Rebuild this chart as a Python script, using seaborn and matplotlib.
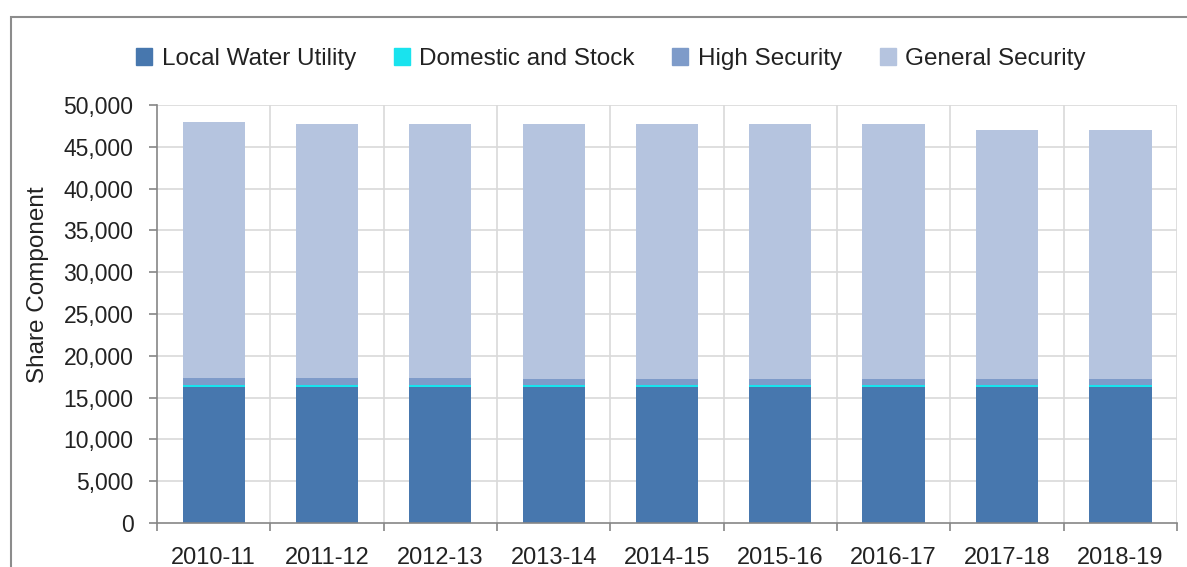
import matplotlib
matplotlib.use("Agg")
import matplotlib.pyplot as plt
import matplotlib.patches as mpatches
from matplotlib.ticker import FuncFormatter, FixedLocator
import numpy as np
import pandas as pd
import seaborn as sns

years = ['2010-11', '2011-12', '2012-13', '2013-14', '2014-15',
         '2015-16', '2016-17', '2017-18', '2018-19']
local_water_utility = [16270, 16270, 16270, 16270, 16270, 16270, 16270, 16270, 16270]
domestic_and_stock = [230, 230, 230, 230, 230, 230, 230, 230, 230]
high_security = [870, 870, 870, 720, 720, 720, 720, 720, 720]
general_security = [30560, 30390, 30390, 30540, 30540, 30540, 30540, 29790, 29790]

series_names = ['Local Water Utility', 'Domestic and Stock', 'High Security', 'General Security']
series_values = [local_water_utility, domestic_and_stock, high_security, general_security]
colors = ['#4777AE', '#19E3EE', '#7E9BC9', '#B5C4DF']

sns.set_theme(style="white")
plt.rcParams['font.family'] = ['Liberation Sans', 'DejaVu Sans']

fig = plt.figure(figsize=(11.87, 5.67), dpi=100)
ax = fig.add_axes([157/1187, 44/567, 1020/1187, 418/567])

# stacked bars: cumulative sums drawn from top segment down
cum = np.zeros(len(years))
cums = []
for name, vals in zip(series_names, series_values):
    cum = cum + np.array(vals, dtype=float)
    cums.append(cum.copy())
for name, c, color in reversed(list(zip(series_names, cums, colors))):
    d = pd.DataFrame({'year': years, 'value': c})
    sns.barplot(data=d, x='year', y='value', color=color, width=0.55,
                saturation=1, linewidth=0, ax=ax, zorder=3)

ax.set_ylim(0, 50000)
ax.set_xlim(-0.5, len(years) - 0.5)
ax.yaxis.set_major_locator(FixedLocator(np.arange(0, 50001, 5000)))
ax.yaxis.set_major_formatter(FuncFormatter(lambda v, p: f'{int(v):,}'))

# gridlines
ax.grid(False)
for v in np.arange(5000, 50001, 5000):
    ax.axhline(v, color='#D9D9D9', lw=1.2, zorder=0)
for b in np.arange(0.5, len(years) - 0.5 + 1e-9, 1.0):
    ax.axvline(b, color='#D9D9D9', lw=1.2, zorder=0)

for s in ['top', 'right']:
    ax.spines[s].set_visible(False)
for s in ['left', 'bottom']:
    ax.spines[s].set_color('#868686')
    ax.spines[s].set_linewidth(1.2)
    ax.spines[s].set_zorder(4)

ax.tick_params(axis='y', which='major', left=True, length=6, width=1.2,
               color='#868686', labelsize=16.5, labelcolor='#222222', pad=11)
ax.xaxis.set_minor_locator(FixedLocator(np.arange(-0.5, len(years), 1.0)))
ax.tick_params(axis='x', which='minor', bottom=True, length=6, width=1.2, color='#868686')
ax.tick_params(axis='x', which='major', bottom=False, length=0, labelsize=17,
               labelcolor='#222222', pad=17)

ax.set_xlabel('')
ax.set_ylabel('Share Component', fontsize=17.5, color='#222222')
ax.yaxis.set_label_coords(-0.106, 0.57)

handles = [mpatches.Patch(color=c, label=n) for n, c in zip(series_names, colors)]
leg = fig.legend(handles=handles, loc='center', bbox_to_anchor=(611/1187, 1 - 59/567),
                 ncol=4, frameon=False, fontsize=17.5, handlelength=0.65, handleheight=0.65,
                 handletextpad=0.4, columnspacing=1.55)
for t in leg.get_texts():
    t.set_color('#222222')

# outer chart frame
frame = mpatches.Rectangle((11/1187, -0.05), 1.2, 1 - 17/567 + 0.05,
                           transform=fig.transFigure, fill=False,
                           edgecolor='#8C8C8C', lw=1.5, clip_on=False)
fig.patches.append(frame)

fig.savefig('out.png', dpi=100)
